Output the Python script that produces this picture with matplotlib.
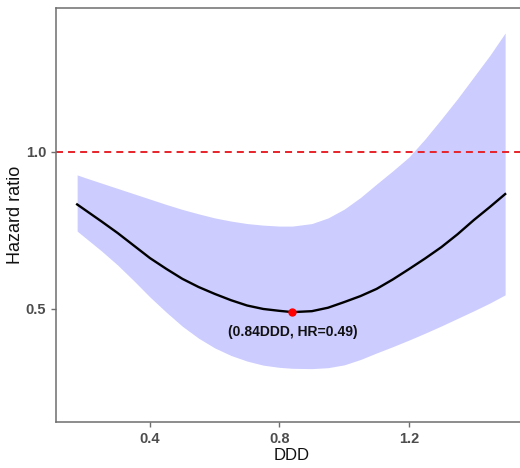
import matplotlib
matplotlib.use("Agg")
import matplotlib.pyplot as plt

# Data
ddd = [0.175, 0.20, 0.25, 0.30, 0.35, 0.40, 0.45, 0.50, 0.55, 0.60, 0.65, 0.70,
       0.75, 0.80, 0.84, 0.90, 0.95, 1.00, 1.05, 1.10, 1.15, 1.20, 1.25, 1.30,
       1.35, 1.40, 1.45, 1.497]
hr = [0.833, 0.815, 0.779, 0.742, 0.702, 0.662, 0.628, 0.596, 0.570, 0.548, 0.528, 0.511,
      0.500, 0.494, 0.490, 0.493, 0.504, 0.522, 0.541, 0.564, 0.594, 0.627, 0.661, 0.697,
      0.738, 0.783, 0.825, 0.866]
hr_upper = [0.927, 0.918, 0.901, 0.884, 0.867, 0.850, 0.833, 0.817, 0.803, 0.790, 0.780, 0.772,
            0.767, 0.764, 0.764, 0.772, 0.790, 0.818, 0.855, 0.898, 0.940, 0.984, 1.042, 1.105,
            1.170, 1.239, 1.308, 1.379]
hr_lower = [0.748, 0.727, 0.685, 0.640, 0.590, 0.538, 0.490, 0.445, 0.407, 0.376, 0.352, 0.334,
            0.321, 0.314, 0.311, 0.310, 0.313, 0.322, 0.339, 0.360, 0.380, 0.401, 0.423, 0.446,
            0.470, 0.494, 0.519, 0.545]
min_ddd = 0.84
min_hr = 0.49
x_ticks = [0.4, 0.8, 1.2]
y_ticks = [0.5, 1.0]
ref_line = 1.0

plt.rcParams['font.family'] = ['Liberation Sans', 'DejaVu Sans']

fig = plt.figure(figsize=(5.2, 4.68), dpi=100)
ax = fig.add_axes([56/520, 46/468, 471/520, 414/468])

ax.fill_between(ddd, hr_lower, hr_upper, color='#CCCCFF', linewidth=0, zorder=1)
ax.plot(ddd, hr, color='black', linewidth=1.7, zorder=3, solid_joinstyle='round')
ax.axhline(ref_line, color='#E8232A', linewidth=1.4, dashes=(3.6, 2.6), zorder=2)
ax.plot([min_ddd], [min_hr], 'o', color='#FF0000', markersize=5, zorder=4)
ax.text(min_ddd, min_hr - 0.063, f"({min_ddd}DDD, HR={min_hr})", ha='center', va='center',
        fontsize=10, fontweight='bold', color='#111111', zorder=5)

ax.set_xlim(0.1097, 1.5645)
ax.set_ylim(0.140, 1.4586)
ax.set_xticks(x_ticks)
ax.set_xticklabels([f"{v:.1f}" for v in x_ticks])
ax.set_yticks(y_ticks)
ax.set_yticklabels([f"{v:.1f}" for v in y_ticks])

for s in ax.spines.values():
    s.set_color('#6E6E6E')
    s.set_linewidth(1.1)
ax.tick_params(axis='both', colors='#6E6E6E', length=3.5, width=1.0, direction='out')
for lbl in ax.get_xticklabels() + ax.get_yticklabels():
    lbl.set_color('#4D4D4D')
    lbl.set_fontsize(10.5)
    lbl.set_fontweight('bold')

ax.set_xlabel("DDD", fontsize=12, color='#111111', labelpad=2)
ax.set_ylabel("Hazard ratio", fontsize=13, color='#111111', labelpad=1)

fig.savefig("out.png", dpi=100)
